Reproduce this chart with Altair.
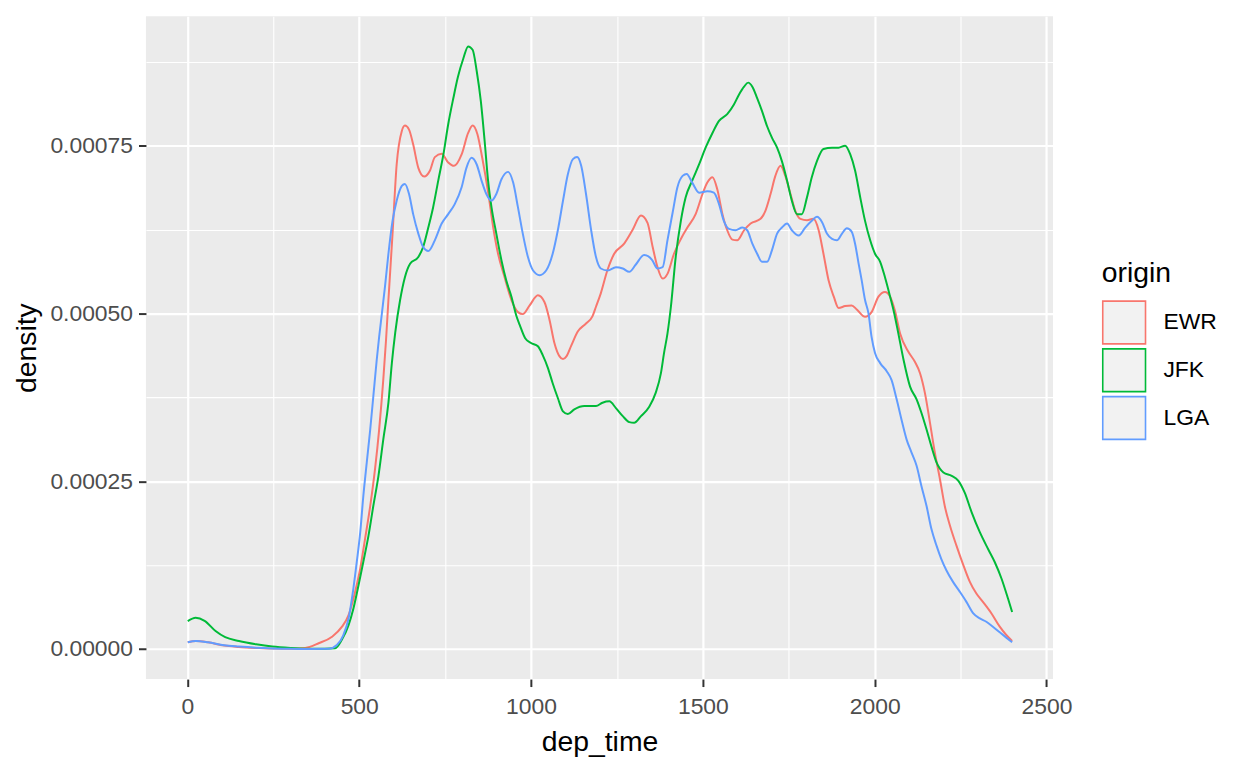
import altair as alt
import pandas as pd

origins = ["EWR", "JFK", "LGA"]
colors = ["#F8766D", "#00BA38", "#619CFF"]

ewr_time = [1, 25, 60, 107, 150, 200, 247, 300, 343, 382, 421, 450, 469, 488, 503, 517, 532, 546, 558, 570,
            578, 585, 597, 609, 624, 633, 645, 657, 672, 689, 706, 720, 740, 759, 776, 798, 817, 830, 844, 858,
            876, 890, 904, 923, 943, 962, 976, 996, 1020, 1039, 1054, 1068, 1083, 1093, 1103, 1117, 1136, 1160,
            1179, 1189, 1203, 1222, 1242, 1271, 1295, 1320, 1339, 1354, 1368, 1383, 1397, 1416, 1436, 1455,
            1479, 1499, 1513, 1528, 1542, 1557, 1571, 1586, 1600, 1620, 1639, 1668, 1682, 1697, 1711, 1726,
            1740, 1755, 1769, 1784, 1803, 1822, 1837, 1851, 1866, 1881, 1895, 1914, 1933, 1948, 1972, 1991,
            2011, 2030, 2045, 2059, 2074, 2098, 2117, 2132, 2146, 2161, 2175, 2190, 2204, 2219, 2238, 2258,
            2277, 2296, 2315, 2340, 2364, 2383, 2400]
ewr_density = [1.00e-5, 1.20e-5, 1.00e-5, 5.0e-6, 3.0e-6, 1.5e-6, 5e-7, 3e-7, 1.5e-6, 8.5e-6, 1.83e-5, 3.32e-5,
               5.04e-5, 8.5e-5, 1.20e-4, 1.64e-4, 2.13e-4, 2.68e-4, 3.27e-4, 4.01e-4, 4.60e-4, 5.20e-4, 6.19e-4,
               7.22e-4, 7.72e-4, 7.80e-4, 7.74e-4, 7.52e-4, 7.17e-4, 7.04e-4, 7.13e-4, 7.33e-4, 7.38e-4,
               7.25e-4, 7.20e-4, 7.37e-4, 7.69e-4, 7.80e-4, 7.67e-4, 7.32e-4, 6.78e-4, 6.28e-4, 5.89e-4,
               5.54e-4, 5.20e-4, 5.02e-4, 4.99e-4, 5.12e-4, 5.27e-4, 5.17e-4, 4.90e-4, 4.56e-4, 4.36e-4,
               4.32e-4, 4.36e-4, 4.52e-4, 4.73e-4, 4.85e-4, 4.96e-4, 5.10e-4, 5.30e-4, 5.64e-4, 5.89e-4,
               6.04e-4, 6.24e-4, 6.46e-4, 6.35e-4, 5.99e-4, 5.69e-4, 5.52e-4, 5.59e-4, 5.89e-4, 6.11e-4,
               6.28e-4, 6.48e-4, 6.78e-4, 6.95e-4, 7.03e-4, 6.85e-4, 6.48e-4, 6.24e-4, 6.10e-4, 6.09e-4,
               6.24e-4, 6.34e-4, 6.41e-4, 6.53e-4, 6.78e-4, 7.05e-4, 7.20e-4, 7.05e-4, 6.78e-4, 6.53e-4,
               6.41e-4, 6.39e-4, 6.41e-4, 6.24e-4, 5.89e-4, 5.49e-4, 5.25e-4, 5.08e-4, 5.11e-4, 5.12e-4,
               5.06e-4, 4.95e-4, 5.02e-4, 5.25e-4, 5.32e-4, 5.25e-4, 5.04e-4, 4.70e-4, 4.43e-4, 4.28e-4,
               4.11e-4, 3.82e-4, 3.37e-4, 2.93e-4, 2.53e-4, 2.13e-4, 1.84e-4, 1.54e-4, 1.25e-4, 1.00e-4,
               8.26e-5, 7.02e-5, 5.29e-5, 3.32e-5, 2.08e-5, 1.20e-5]

jfk_time = [1, 24, 50, 82, 110, 150, 200, 247, 300, 343, 400, 430, 449, 469, 483, 498, 512, 527, 541, 556,
            570, 585, 595, 605, 619, 633, 648, 672, 686, 701, 715, 730, 745, 759, 774, 787, 803, 817, 830, 842,
            854, 865, 875, 885, 899, 914, 928, 943, 957, 967, 983, 1000, 1020, 1034, 1049, 1063, 1078, 1093,
            1107, 1126, 1155, 1189, 1208, 1228, 1247, 1267, 1286, 1300, 1320, 1344, 1363, 1378, 1387, 1397,
            1407, 1421, 1436, 1450, 1469, 1489, 1508, 1528, 1547, 1571, 1590, 1605, 1620, 1632, 1644, 1658,
            1672, 1687, 1701, 1716, 1730, 1745, 1759, 1774, 1788, 1803, 1817, 1832, 1851, 1876, 1895, 1914,
            1929, 1943, 1958, 1972, 1987, 2001, 2016, 2030, 2045, 2057, 2069, 2084, 2103, 2122, 2136, 2151,
            2165, 2180, 2200, 2224, 2243, 2262, 2282, 2306, 2330, 2349, 2369, 2388, 2400]
jfk_density = [4.15e-5, 4.65e-5, 4.20e-5, 2.67e-5, 1.75e-5, 1.19e-5, 7.0e-6, 3.6e-6, 1.5e-6, 5e-7, 3e-7, 1.0e-6,
               1.33e-5, 3.56e-5, 6.0e-5, 9.49e-5, 1.30e-4, 1.69e-4, 2.13e-4, 2.58e-4, 3.12e-4, 3.67e-4,
               4.26e-4, 4.72e-4, 5.20e-4, 5.54e-4, 5.74e-4, 5.84e-4, 5.99e-4, 6.28e-4, 6.58e-4, 6.98e-4,
               7.37e-4, 7.82e-4, 8.21e-4, 8.52e-4, 8.80e-4, 8.98e-4, 8.93e-4, 8.61e-4, 8.16e-4, 7.57e-4,
               6.98e-4, 6.58e-4, 6.19e-4, 5.79e-4, 5.49e-4, 5.25e-4, 4.97e-4, 4.83e-4, 4.63e-4, 4.56e-4,
               4.51e-4, 4.38e-4, 4.19e-4, 3.96e-4, 3.74e-4, 3.54e-4, 3.50e-4, 3.57e-4, 3.62e-4, 3.62e-4,
               3.67e-4, 3.69e-4, 3.59e-4, 3.47e-4, 3.38e-4, 3.37e-4, 3.47e-4, 3.61e-4, 3.82e-4, 4.11e-4,
               4.41e-4, 4.70e-4, 5.10e-4, 5.84e-4, 6.38e-4, 6.73e-4, 6.98e-4, 7.22e-4, 7.47e-4, 7.69e-4,
               7.87e-4, 7.97e-4, 8.11e-4, 8.26e-4, 8.38e-4, 8.44e-4, 8.38e-4, 8.21e-4, 8.02e-4, 7.79e-4,
               7.62e-4, 7.47e-4, 7.27e-4, 6.98e-4, 6.68e-4, 6.48e-4, 6.48e-4, 6.73e-4, 7.03e-4, 7.27e-4,
               7.45e-4, 7.47e-4, 7.47e-4, 7.50e-4, 7.37e-4, 7.13e-4, 6.73e-4, 6.38e-4, 6.09e-4, 5.89e-4,
               5.77e-4, 5.54e-4, 5.25e-4, 5.00e-4, 4.70e-4, 4.31e-4, 3.91e-4, 3.72e-4, 3.52e-4, 3.27e-4,
               3.02e-4, 2.78e-4, 2.63e-4, 2.58e-4, 2.51e-4, 2.33e-4, 2.04e-4, 1.74e-4, 1.49e-4, 1.30e-4,
               1.05e-4, 7.51e-5, 5.5e-5]

lga_time = [1, 25, 60, 107, 150, 200, 247, 300, 350, 411, 435, 454, 469, 483, 493, 503, 512, 522, 532, 541,
            551, 558, 566, 575, 585, 597, 609, 624, 633, 645, 657, 672, 686, 701, 720, 740, 759, 778, 798, 812,
            827, 842, 856, 870, 885, 899, 914, 933, 948, 962, 976, 991, 1006, 1025, 1044, 1063, 1078, 1093,
            1107, 1122, 1134, 1146, 1160, 1175, 1189, 1203, 1223, 1247, 1267, 1286, 1305, 1329, 1352, 1368,
            1383, 1397, 1412, 1426, 1441, 1453, 1469, 1489, 1513, 1532, 1547, 1561, 1576, 1595, 1615, 1629,
            1644, 1658, 1672, 1687, 1701, 1716, 1730, 1745, 1759, 1779, 1798, 1817, 1832, 1847, 1861, 1876,
            1890, 1905, 1919, 1933, 1943, 1953, 1962, 1972, 1982, 1991, 2001, 2016, 2035, 2049, 2064, 2078,
            2093, 2107, 2122, 2136, 2151, 2165, 2180, 2194, 2209, 2228, 2248, 2267, 2287, 2306, 2325, 2344,
            2364, 2383, 2400]
lga_density = [1.00e-5, 1.20e-5, 1.00e-5, 5.5e-6, 3.5e-6, 1.8e-6, 8e-7, 2e-7, 1e-7, 3e-7, 6.0e-6, 2.08e-5,
               4.55e-5, 9.0e-5, 1.30e-4, 1.74e-4, 2.28e-4, 2.78e-4, 3.27e-4, 3.76e-4, 4.31e-4, 4.65e-4,
               5.00e-4, 5.40e-4, 5.89e-4, 6.38e-4, 6.68e-4, 6.90e-4, 6.93e-4, 6.78e-4, 6.48e-4, 6.19e-4,
               5.99e-4, 5.93e-4, 6.09e-4, 6.34e-4, 6.48e-4, 6.63e-4, 6.88e-4, 7.17e-4, 7.32e-4, 7.22e-4,
               6.98e-4, 6.78e-4, 6.68e-4, 6.78e-4, 7.00e-4, 7.11e-4, 6.95e-4, 6.58e-4, 6.19e-4, 5.84e-4,
               5.64e-4, 5.57e-4, 5.64e-4, 5.89e-4, 6.24e-4, 6.68e-4, 7.07e-4, 7.30e-4, 7.33e-4, 7.20e-4,
               6.78e-4, 6.24e-4, 5.84e-4, 5.67e-4, 5.64e-4, 5.69e-4, 5.67e-4, 5.62e-4, 5.73e-4, 5.87e-4,
               5.80e-4, 5.67e-4, 5.69e-4, 6.09e-4, 6.50e-4, 6.88e-4, 7.05e-4, 7.08e-4, 6.95e-4, 6.80e-4,
               6.82e-4, 6.80e-4, 6.63e-4, 6.38e-4, 6.26e-4, 6.24e-4, 6.28e-4, 6.24e-4, 6.04e-4, 5.89e-4,
               5.77e-4, 5.77e-4, 5.94e-4, 6.19e-4, 6.28e-4, 6.34e-4, 6.24e-4, 6.16e-4, 6.28e-4, 6.38e-4,
               6.44e-4, 6.36e-4, 6.19e-4, 6.11e-4, 6.09e-4, 6.19e-4, 6.27e-4, 6.22e-4, 6.04e-4, 5.75e-4,
               5.50e-4, 5.20e-4, 5.00e-4, 4.65e-4, 4.41e-4, 4.26e-4, 4.14e-4, 4.01e-4, 3.72e-4, 3.42e-4,
               3.12e-4, 2.93e-4, 2.73e-4, 2.43e-4, 2.13e-4, 1.79e-4, 1.54e-4, 1.34e-4, 1.17e-4, 1.00e-4,
               8.51e-5, 7.02e-5, 5.29e-5, 4.55e-5, 4.06e-5, 3.32e-5, 2.48e-5, 1.69e-5, 9.9e-6]

x_ticks = [0, 250, 500, 750, 1000, 1250, 1500, 1750, 2000, 2250, 2500]
y_ticks = [0.0, 0.000125, 0.00025, 0.000375, 0.0005, 0.000625, 0.00075, 0.000875]

frames = []
for name, t, d in [("EWR", ewr_time, ewr_density), ("JFK", jfk_time, jfk_density), ("LGA", lga_time, lga_density)]:
    frames.append(pd.DataFrame({"dep_time": t, "density": d, "origin": name}))
df = pd.concat(frames, ignore_index=True)

FONT = "Liberation Sans"
x_major = "datum.value % 500 === 0"
y_major = "round(datum.value / 0.000125) % 2 === 0"


def axis(test, ticks, fmt, title_pad, label_pad):
    return alt.Axis(
        values=ticks,
        format=fmt,
        labelExpr=f"({test}) ? datum.label : ''",
        domain=False,
        grid=True,
        gridColor="#FFFFFF",
        gridWidth={"condition": {"test": test, "value": 2.2}, "value": 1.1},
        tickColor={"condition": {"test": test, "value": "#333333"}, "value": "rgba(0,0,0,0)"},
        tickSize=7.5,
        tickWidth=2,
        labelPadding=label_pad,
        labelColor="#4D4D4D",
        labelFont=FONT,
        labelFontSize=23,
        labelOverlap=False,
        labelFlush=False,
        titleFont=FONT,
        titleFontSize=28.5,
        titleFontWeight="normal",
        titleColor="#000000",
        titlePadding=title_pad,
    )


chart = alt.Chart(df).mark_line(strokeWidth=2, interpolate="monotone").encode(
    x=alt.X("dep_time:Q", title="dep_time",
            scale=alt.Scale(domain=[-120.6, 2519], nice=False, zero=False),
            axis=axis(x_major, x_ticks, "d", 9, 9)),
    y=alt.Y("density:Q", title="density",
            scale=alt.Scale(domain=[-0.0000449, 0.000943], nice=False, zero=False),
            axis=axis(y_major, y_ticks, ".5f", 8, 6)),
    color=alt.Color("origin:N", title="origin",
                    scale=alt.Scale(domain=origins, range=colors),
                    legend=alt.Legend(
                        orient="none", legendX=961, legendY=244,
                        symbolType="square", symbolSize=1849,
                        symbolFillColor="#F2F2F2", symbolStrokeWidth=1.6,
                        symbolOpacity=1,
                        rowPadding=-3.5, labelOffset=17,
                        labelFont=FONT, labelFontSize=23, labelColor="#000000",
                        titleFont=FONT, titleFontSize=28.5, titleFontWeight="normal",
                        titleColor="#000000", titlePadding=13, padding=0,
                    )),
    detail="origin:N",
).properties(
    width=912,
    height=666.5,
    autosize=alt.AutoSizeParams(type="none"),
    padding={"left": 138.7, "top": 6.2, "right": 188, "bottom": 80},
).configure(
    background="#FFFFFF",
).configure_view(
    fill="#EBEBEB", strokeWidth=0,
)

chart.save("out.html", embed_options={"renderer": "svg", "actions": False})
